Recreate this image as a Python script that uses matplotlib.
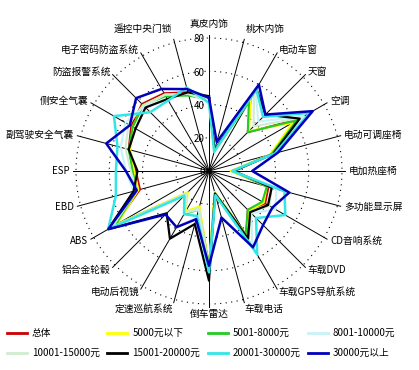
import numpy as np
import matplotlib
matplotlib.use('Agg')
import matplotlib.pyplot as plt
from matplotlib.lines import Line2D

plt.rcParams['font.family'] = ['Noto Sans CJK SC', 'DejaVu Sans']

categories = ['真皮内饰', '桃木内饰', '电动车窗', '天窗', '空调', '电动可调座椅',
              '电加热座椅', '多功能显示屏', 'CD音响系统', '车载DVD', '车载GPS导航系统',
              '车载电话', '倒车雷达', '定速巡航系统', '电动后视镜', '铝合金轮毂',
              'ABS', 'EBD', 'ESP', '副驾驶安全气囊', '侧安全气囊', '防盗报警系统',
              '电子密码防盗系统', '遥控中央门锁']

names = ['总体', '5000元以下', '5001-8000元', '8001-10000元',
         '10001-15000元', '15001-20000元', '20001-30000元', '30000元以上']

total = [44, 13, 50, 33, 62, 40, 14, 37, 39, 33, 45, 14, 58, 23, 29, 19, 66, 43, 44, 50, 54, 57, 54, 49]
below5000 = [43, 12, 50, 34, 58, 38, 13, 36, 38, 34, 44, 13, 57, 22, 28, 18, 64, 44, 45, 49, 53, 56, 53, 48]
r5001_8000 = [43, 13, 48, 33, 61, 39, 14, 36, 37, 33, 44, 14, 57, 24, 30, 20, 65, 45, 46, 50, 53, 56, 52, 47]
r8001_10000 = [42, 13, 56, 42, 66, 40, 14, 42, 46, 36, 52, 15, 60, 24, 29, 20, 68, 47, 50, 55, 58, 55, 53, 48]
r10001_15000 = [43, 13, 54, 38, 64, 40, 14, 39, 42, 35, 48, 14, 59, 23, 29, 19, 67, 45, 47, 52, 56, 56, 53, 48]
r15001_20000 = [45, 13, 57, 48, 63, 40, 15, 39, 41, 35, 47, 14, 66, 33, 47, 36, 70, 47, 43, 50, 51, 54, 50, 49]
r20001_30000 = [41, 12, 57, 46, 70, 41, 14, 47, 53, 40, 58, 15, 61, 28, 30, 21, 70, 58, 56, 57, 66, 50, 49, 52]
above30000 = [44, 18, 60, 48, 72, 43, 26, 50, 44, 46, 53, 29, 57, 30, 39, 37, 70, 45, 50, 64, 55, 62, 57, 51]

rings = [20, 40, 60, 80]

data = [total, below5000, r5001_8000, r8001_10000, r10001_15000,
        r15001_20000, r20001_30000, above30000]
colors = ['#cc0000', '#ffff00', '#22cc22', '#c6f2f8', '#cfeccf',
          '#000000', '#33e6e6', '#0000bb']
widths = [1.5, 1.5, 1.5, 1.5, 1.5, 1.6, 1.8, 1.8]

W, H = 419, 370
fig = plt.figure(figsize=(W / 100, H / 100), dpi=100)
ax = fig.add_axes([76 / W, (H - 171 - 133) / H, 266 / W, 266 / H], projection='polar')
ax.set_theta_offset(np.pi / 2)
ax.set_theta_direction(-1)
ax.set_ylim(0, 80)
ax.axis('off')

n = len(categories)
angles = np.arange(n) * 2 * np.pi / n

# dotted rings
t = np.linspace(0, 2 * np.pi, 500)
for r in rings:
    ax.plot(t, np.full_like(t, r), color='k', ls=(0, (1, 4)), lw=0.8, clip_on=False)

# spokes + category labels
for a, cat in zip(angles, categories):
    ax.plot([a, a], [0, 82], color='k', lw=0.7, clip_on=False)
    s = np.sin(a)
    c = np.cos(a)
    if s > 0.1:
        ha = 'left'
    elif s < -0.1:
        ha = 'right'
    else:
        ha = 'center'
    if c > 0.95:
        va, rr = 'bottom', 85.5
    elif c < -0.95:
        va, rr = 'top', 83
    else:
        va, rr = 'center', 84
    ax.text(a, rr, cat, ha=ha, va=va, fontsize=7)

# radial tick labels
for r in [0] + rings:
    ax.annotate(str(r), xy=(0, r), xytext=(-3, -1), textcoords='offset points',
                ha='right', va='center', fontsize=7)

for vals, col, lw in zip(data, colors, widths):
    v = list(vals) + [vals[0]]
    a = list(angles) + [angles[0]]
    ax.plot(a, v, color=col, lw=lw)

# legend, 4 columns x 2 rows
for i, (name, col) in enumerate(zip(names, colors)):
    x0 = 7 + 100.3 * (i % 4)
    y = H - (333 + 19.5 * (i // 4))
    fig.add_artist(Line2D([x0 / W, (x0 + 20) / W], [y / H, y / H], color=col, lw=2))
    fig.text((x0 + 25) / W, y / H, name, ha='left', va='center', fontsize=7)

fig.savefig('out.png', dpi=100)
